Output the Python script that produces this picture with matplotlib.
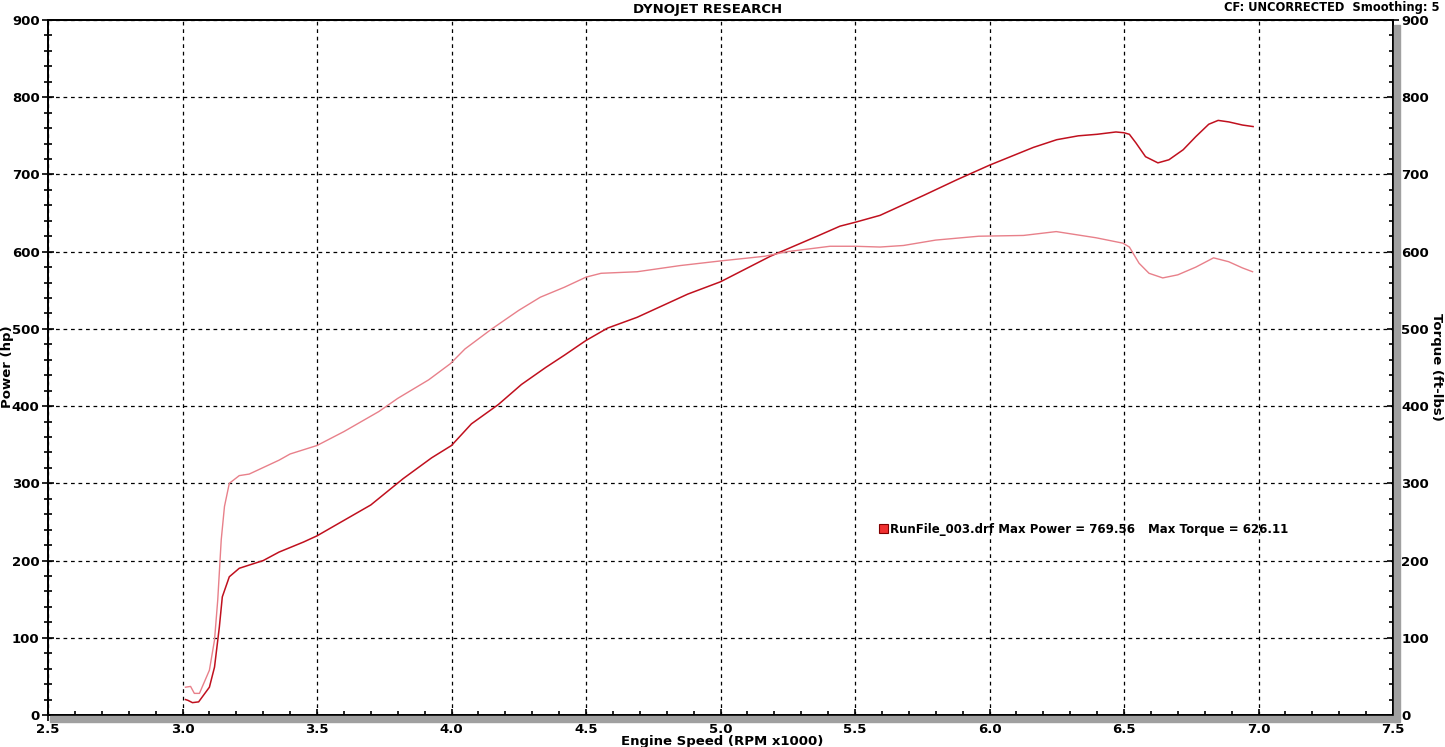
import matplotlib.pyplot as plt
from matplotlib.patches import Rectangle
from matplotlib.ticker import MultipleLocator

# Данные
rpm_power = [3.011, 3.02, 3.037, 3.06, 3.10, 3.119, 3.137, 3.148, 3.174, 3.211, 3.30, 3.359,
             3.45, 3.50, 3.60, 3.70, 3.82, 3.926, 4.0, 4.074, 4.174, 4.26, 4.35, 4.42, 4.5,
             4.58, 4.69, 4.878, 5.0, 5.185, 5.359, 5.444, 5.5, 5.593, 5.756, 5.878, 6.0,
             6.163, 6.25, 6.33, 6.40, 6.47, 6.5, 6.52, 6.544, 6.58, 6.626, 6.667, 6.72,
             6.767, 6.815, 6.85, 6.89, 6.94, 6.98]
power = [20, 19, 16, 17, 36, 62, 114, 153, 179, 190, 200, 211,
         224, 232, 252, 272, 306, 333, 349, 377, 402, 428, 450, 466, 485,
         501, 515, 545, 561, 594, 620, 633, 638, 647, 673, 693, 712,
         735, 745, 750, 752, 755, 754, 752, 741, 723, 715, 719, 732,
         749, 765, 770, 768, 764, 762]

rpm_torque = [3.011, 3.03, 3.044, 3.063, 3.10, 3.119, 3.131, 3.144, 3.156, 3.174, 3.211, 3.248,
              3.359, 3.4, 3.5, 3.6, 3.73, 3.80, 3.915, 3.996, 4.05, 4.15, 4.25, 4.33, 4.42,
              4.5, 4.556, 4.69, 4.85, 5.0, 5.163, 5.248, 5.407, 5.5, 5.593, 5.68, 5.80, 5.96,
              6.126, 6.248, 6.396, 6.496, 6.52, 6.556, 6.593, 6.644, 6.70, 6.767, 6.833,
              6.889, 6.94, 6.978]
torque = [36, 37, 28, 28, 58, 97, 149, 227, 270, 300, 310, 312,
          330, 338, 349, 367, 393, 410, 434, 455, 474, 500, 524, 541, 554,
          567, 572, 574, 582, 588, 594, 600, 607, 607, 606, 608, 615, 620,
          621, 626, 618, 611, 606, 585, 572, 566, 570, 580, 592,
          587, 579, 574]

W, H = 1445, 747
fig = plt.figure(figsize=(W / 100, H / 100), dpi=100)
ax = fig.add_axes([48 / W, 1 - 715 / H, (1393 - 48) / W, (715 - 20) / H])
ax2 = ax.twinx()

# серые "тени" под осями
fig.patches.append(Rectangle((50 / W, 1 - 722 / H), (1399 - 50) / W, 6 / H,
                             transform=fig.transFigure, color='#a0a0a0', zorder=0))
fig.patches.append(Rectangle((1394 / W, 1 - 722 / H), 6 / W, (722 - 25) / H,
                             transform=fig.transFigure, color='#a0a0a0', zorder=0))

ax.plot(rpm_power, power, color='#c0101e', lw=1.1, zorder=3)
ax2.plot(rpm_torque, torque, color='#e8808a', lw=1.0, zorder=3)

for a in (ax, ax2):
    a.set_xlim(2.5, 7.5)
    a.set_ylim(0, 900)
    a.yaxis.set_major_locator(MultipleLocator(100))
    a.yaxis.set_minor_locator(MultipleLocator(20))
    for s in a.spines.values():
        s.set_linewidth(1.3)
    a.tick_params(which='both', direction='inout', width=1.2)
    a.tick_params(which='major', length=8, labelsize=9.5, pad=2)
    a.tick_params(which='minor', length=6)
    for lbl in a.get_yticklabels() + a.get_xticklabels():
        lbl.set_fontweight('bold')

ax.xaxis.set_minor_locator(MultipleLocator(0.1))
ax.set_xticks([2.5, 3.0, 3.5, 4.0, 4.5, 5.0, 5.5, 6.0, 6.5, 7.0, 7.5])
ax.set_xticklabels(['2.5', '3.0', '3.5', '4.0', '4.5', '5.0', '5.5', '6.0', '6.5', '7.0', '7.5'],
                   fontweight='bold')
ax.tick_params(axis='x', pad=2)
ax.grid(True, which='major', color='black', linestyle=(0, (3, 3)), lw=0.9)

fig.text(722 / W, 1 - 741 / H, 'Engine Speed (RPM x1000)', ha='center', va='center',
         fontsize=9.5, fontweight='bold')
fig.text(8 / W, 1 - 367 / H, 'Power (hp)', ha='center', va='center', rotation=90,
         fontsize=9.5, fontweight='bold')
fig.text(1436 / W, 1 - 367 / H, 'Torque (ft-lbs)', ha='center', va='center', rotation=-90,
         fontsize=9.5, fontweight='bold')

fig.text(708 / W, 1 - 9 / H, 'DYNOJET RESEARCH', ha='center', va='center',
         fontsize=9.5, fontweight='bold')
fig.text(1440 / W, 1 - 7 / H, 'CF: UNCORRECTED  Smoothing: 5', ha='right', va='center',
         fontsize=8.3, fontweight='bold')

# подпись-легенда
fig.patches.append(Rectangle((879 / W, 1 - 533 / H), 9 / W, 9 / H, transform=fig.transFigure,
                             facecolor='#f03030', edgecolor='#800000', lw=0.8, zorder=5))
fig.text(890 / W, 1 - 529 / H, 'RunFile_003.drf Max Power = 769.56', ha='left', va='center',
         fontsize=8.5, fontweight='bold')
fig.text(1148 / W, 1 - 529 / H, 'Max Torque = 626.11', ha='left', va='center',
         fontsize=8.5, fontweight='bold')

plt.savefig('out.png', dpi=100)
